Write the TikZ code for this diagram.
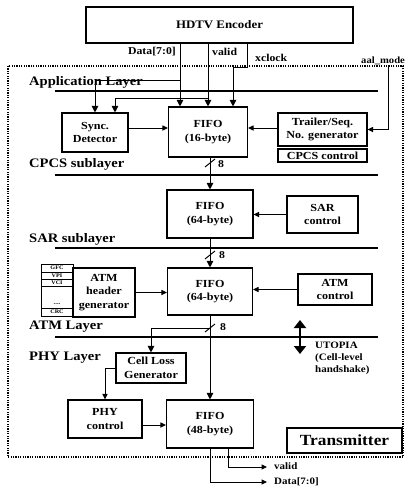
\documentclass[tikz,border=0pt]{standalone}
\usepackage{fontspec}
\setmainfont{Liberation Serif}[FakeStretch=1.12]
\usetikzlibrary{arrows.meta}
\begin{document}
\begin{tikzpicture}[x=1pt,y=-1pt,
  box/.style={draw, line width=1.1pt, inner sep=0pt, align=center,
    font=\fontsize{10.8}{13.5}\selectfont\bfseries},
  cellbox/.style={draw, line width=0.7pt, inner sep=0pt, minimum width=32pt,
    font=\fontsize{5.5}{5.5}\selectfont\bfseries},
  lay/.style={line width=1.1pt},
  conn/.style={line width=1pt},
  arr/.style={conn, -{Triangle[length=6.5pt,width=6.5pt]}},
  sarr/.style={conn, -{Triangle[length=5.5pt,width=5pt]}},
  ltxt/.style={anchor=west, inner sep=0pt, font=\fontsize{13}{14}\selectfont\bfseries},
  stxt/.style={inner sep=0pt, font=\fontsize{10.5}{12}\selectfont\bfseries},
]
\useasboundingbox (0,0) rectangle (412,498);

% outer dotted frame
\draw[line width=1.7pt, dash pattern=on 1.2pt off 1.2pt] (8,66) rectangle (403,457);

% encoder
\node[box, minimum width=267pt, minimum height=36pt,
  font=\fontsize{11.5}{13}\selectfont\bfseries] (hdtv) at (219.5,25) {HDTV Encoder};

% layer labels and lines
\node[ltxt] (lapp) at (29,82) {Application Layer};
\node[ltxt] (lcpcs) at (29,164) {CPCS sublayer};
\node[ltxt] (lsar) at (29,239) {SAR sublayer};
\node[ltxt] (latm) at (29,327) {ATM Layer};
\node[ltxt] (lphy) at (29,358) {PHY Layer};
\coordinate (a1) at (55,91);  \coordinate (a2) at (378,91);
\coordinate (c1) at (55,175); \coordinate (c2) at (378,175);
\coordinate (s1) at (55,248); \coordinate (s2) at (378,248);
\coordinate (t1) at (55,337); \coordinate (t2) at (378,337);
\draw[lay] (a1) -- (a2);
\draw[lay] (c1) -- (c2);
\draw[lay] (s1) -- (s2);
\draw[lay] (t1) -- (t2);

% application layer boxes
\node[box, minimum width=66pt, minimum height=39pt] (sync) at (95,132.5) {Sync.\\Detector};
\node[box, minimum width=79pt, minimum height=50pt] (fifo16) at (208,132) {FIFO\\(16-byte)};
\node[box, minimum width=89pt, minimum height=33pt] (trailer) at (322.5,129.5) {Trailer/Seq.\\No. generator};
\node[box, minimum width=89pt, minimum height=13pt] (cpcs) at (322.5,155.5) {CPCS control};

% encoder signals
\node[stxt, anchor=east] (tdata) at (176,52) {Data[7:0]};
\node[stxt, anchor=west] (tvalid) at (212,52) {valid};
\node[stxt, anchor=west] (txclk) at (255,58) {xclock};
\node[stxt, anchor=west, font=\fontsize{9.5}{11}\selectfont\bfseries] (taal) at (361,61) {aal\_mode};

\coordinate (xd) at (180,0);
\coordinate (xv) at (208,0);
\coordinate (bd) at (180,80);
\coordinate (bv) at (208,98);
\coordinate (xk) at (247,0);
\coordinate (k1) at (247,67);
\coordinate (k2) at (233,67);
\coordinate (xk2) at (233,0);
\coordinate (aal) at (388,67);
\coordinate (r1) at (0,128);

\draw[arr] (hdtv.south -| xd) -- (fifo16.north -| xd);
\draw[arr] (bd) -| (sync.north);
\draw[arr] (hdtv.south -| xv) -- (fifo16.north -| xv);
\draw[arr] (bv) -| ([xshift=20pt]sync.north);
\draw[arr] (hdtv.south -| xk) -- (k1) -- (k2) -- (fifo16.north -| xk2);
\draw[sarr] (aal) |- (trailer.east);
\draw[sarr] (sync.east |- r1) -- (fifo16.west |- r1);
\draw[sarr] (trailer.west |- r1) -- (fifo16.east |- r1);

% SAR
\node[box, minimum width=86pt, minimum height=48pt] (fifo64a) at (210,214) {FIFO\\(64-byte)};
\node[box, minimum width=71pt, minimum height=37pt] (sarc) at (322.5,214.5) {SAR\\control};
\draw[arr] (fifo16.south -| fifo64a.north) -- (fifo64a.north);
\coordinate (sl1a) at (205,167); \coordinate (sl1b) at (215,159);
\draw[conn] (sl1a) -- (sl1b);
\node[stxt, anchor=west] (n8a) at (218,164) {8};
\draw[sarr] (sarc.west) -- (fifo64a.east |- sarc.west);

% ATM
\node[box, minimum width=85pt, minimum height=47pt] (fifo64b) at (210,291.5) {FIFO\\(64-byte)};
\node[box, minimum width=74pt, minimum height=31pt] (atmc) at (335,289.5) {ATM\\control};
\node[box, minimum width=62pt, minimum height=49pt] (hdr) at (104,292.5) {ATM\\header\\generator};
\node[cellbox, minimum height=8pt] (gfc) at (57,268) {GFC};
\node[cellbox, minimum height=7pt] (vpi) at (57,275.5) {VPI};
\node[cellbox, minimum height=7pt] (vci) at (57,282.5) {VCI};
\node[cellbox, minimum height=22pt] (blank) at (57,297) {};
\node[cellbox, minimum height=8pt] (crc) at (57,312) {CRC};
\node[inner sep=0pt, font=\fontsize{6}{6}\selectfont\bfseries] (dots) at (57,304) {....};
\draw[arr] (fifo64a.south) -- (fifo64b.north);
\coordinate (sl2a) at (205,259); \coordinate (sl2b) at (215,251);
\draw[conn] (sl2a) -- (sl2b);
\node[stxt, anchor=west] (n8b) at (219,255) {8};
\draw[sarr] (atmc.west) -- (fifo64b.east |- atmc.west);
\draw[sarr] (hdr.east) -- (fifo64b.west |- hdr.east);

% PHY
\node[box, minimum width=87pt, minimum height=48pt] (fifo48) at (210,424) {FIFO\\(48-byte)};
\node[box, minimum width=70pt, minimum height=30pt] (cell) at (151,368) {Cell Loss\\Generator};
\node[box, minimum width=74pt, minimum height=38pt] (phy) at (105,419) {PHY\\control};
\draw[arr] (fifo64b.south) -- (fifo48.north);
\coordinate (sl3a) at (205,332); \coordinate (sl3b) at (215,324);
\draw[conn] (sl3a) -- (sl3b);
\node[stxt, anchor=west] (n8c) at (220,327) {8};
\coordinate (b3) at (210,328);
\draw[arr] (b3) -| (cell.north);
\draw[sarr] (cell.west) -| (phy.north);
\coordinate (r4) at (0,425);
\draw[sarr] (phy.east |- r4) -- (fifo48.west |- r4);

% UTOPIA
\coordinate (u1) at (300,320);
\coordinate (u2) at (300,354);
\draw[line width=2.6pt, {Triangle[length=8pt,width=12pt]}-{Triangle[length=8pt,width=12pt]}] (u1) -- (u2);
\node[stxt, anchor=north west, align=left, font=\fontsize{9.8}{12}\selectfont\bfseries] (utop) at (315,342) {UTOPIA\\(Cell-level\\handshake)};

% Transmitter
\node[draw, line width=2pt, minimum width=115pt, minimum height=25pt, inner sep=0pt,
  font=\fontsize{15.5}{16}\selectfont\bfseries] (tx) at (344.5,440.5) {Transmitter};

% outputs
\coordinate (o1) at (267,482);
\coordinate (o2) at (267,467);
\coordinate (xo2) at (228,0);
\draw[sarr] (fifo48.south) |- (o1);
\draw[sarr] (fifo48.south -| xo2) |- (o2);
\node[stxt, anchor=west, font=\fontsize{9.8}{11}\selectfont\bfseries] (odata) at (274,482) {Data[7:0]};
\node[stxt, anchor=west, font=\fontsize{9.8}{11}\selectfont\bfseries] (ovalid) at (274,466) {valid};
\end{tikzpicture}
\end{document}
